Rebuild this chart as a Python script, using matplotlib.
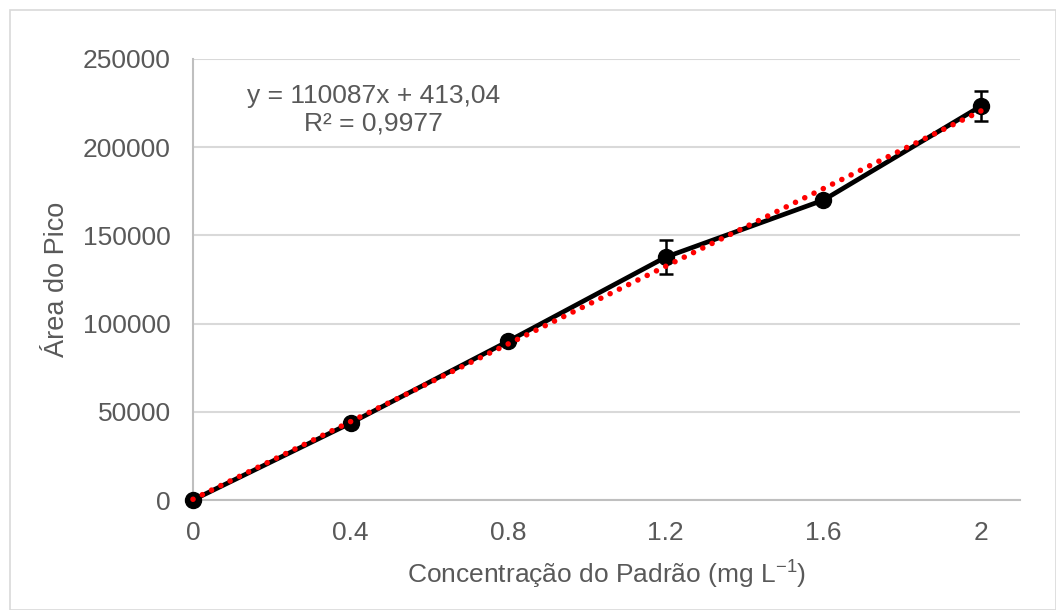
import matplotlib
matplotlib.use("Agg")
import matplotlib.pyplot as plt
from matplotlib.patches import Rectangle
import numpy as np

plt.rcParams['font.family'] = ['Liberation Sans', 'DejaVu Sans']
plt.rcParams['mathtext.default'] = 'regular'

# Data
conc = [0, 0.4, 0.8, 1.2, 1.6, 2.0]
area = [0, 43600, 90000, 137700, 170000, 223300]
area_err = [0, 0, 0, 9700, 0, 8300]
slope = 110087
intercept = 413.04
r2_text = "R² = 0,9977"
eq_text = "y = 110087x + 413,04"
xticks = [0, 0.4, 0.8, 1.2, 1.6, 2.0]
xtick_labels = ["0", "0.4", "0.8", "1.2", "1.6", "2"]
yticks = [0, 50000, 100000, 150000, 200000, 250000]

W, H = 1056, 610
fig = plt.figure(figsize=(W / 100, H / 100), dpi=100)
ax = fig.add_axes([193 / W, 1 - 500 / H, (1020 - 193) / W, (500 - 59) / H])

# chart border
fig.patches.append(Rectangle((10 / W, 0), 1 - 10 / W, 1 - 10 / H, transform=fig.transFigure,
                             fill=False, edgecolor='#d9d9d9', linewidth=1.2))

gray = '#595959'
ax.set_xlim(0, 2.099)
ax.set_ylim(0, 250000)
ax.set_yticks(yticks)
ax.set_yticklabels([str(v) for v in yticks])
ax.set_xticks(xticks)
ax.set_xticklabels(xtick_labels)
ax.grid(axis='y', color='#d9d9d9', linewidth=1.5)
ax.set_axisbelow(True)
for s in ['top', 'right']:
    ax.spines[s].set_visible(False)
for s in ['left', 'bottom']:
    ax.spines[s].set_color('#bfbfbf')
    ax.spines[s].set_linewidth(1.5)
ax.tick_params(length=0, labelsize=19, colors=gray)
ax.tick_params(axis='y', pad=16)
ax.tick_params(axis='x', pad=15)

ax.errorbar(conc, area, yerr=area_err, color='black', linewidth=3.4, marker='o',
            markersize=11.5, ecolor='black', elinewidth=1.8, capsize=5, capthick=1.8,
            zorder=3, clip_on=False)

xf = np.array([conc[0], conc[-1]])
ax.plot(xf, slope * xf + intercept, linestyle=(0, (0.01, 1.85)), color='#ff0000',
        linewidth=4.0, dash_capstyle='round', zorder=4, clip_on=False)

ax.text(0.218, 0.885, eq_text + "\n" + r2_text, transform=ax.transAxes, ha='center', va='center',
        fontsize=19, color=gray, linespacing=1.2, multialignment='center')

ax.set_xlabel("Concentração do Padrão (mg L$^{-1}$)", fontsize=19, color=gray, labelpad=10)
ax.set_ylabel("Área do Pico", fontsize=19.5, color=gray, labelpad=9)

fig.savefig("out.png", dpi=100)
